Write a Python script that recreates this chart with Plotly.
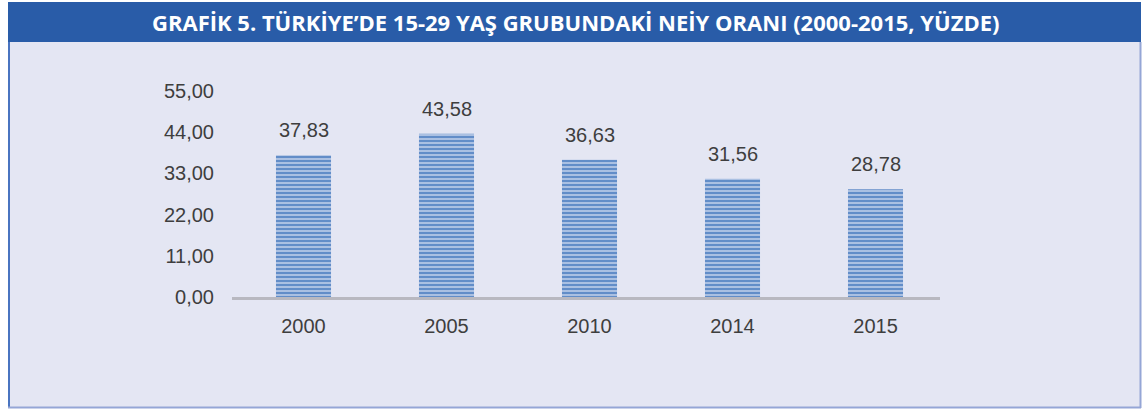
import plotly.graph_objects as go

years = ["2000", "2005", "2010", "2014", "2015"]
values = [37.83, 43.58, 36.63, 31.56, 28.78]
y_ticks = [0, 11, 22, 33, 44, 55]
title = "GRAFİK 5. TÜRKİYE’DE 15-29 YAŞ GRUBUNDAKİ NEİY ORANI (2000-2015, YÜZDE)"

W, H = 1144, 410
L, R, T, B = 232, 940, 91, 297  # plot area in pixels


def px(x):
    return (x - L) / (R - L)


def py(y):
    return (B - y) / (B - T)


FONT = dict(family="Liberation Sans, Arial", size=20, color="#3e3e3e")

fig = go.Figure()
fig.add_trace(go.Bar(
    x=years, y=values, width=0.385,
    marker=dict(
        color="#a9bfe1",
        line=dict(width=0),
        pattern=dict(shape="-", size=4, solidity=0.45,
                     fgcolor="#5a87c5", bgcolor="#aac0e2", fillmode="replace"),
    ),
    hoverinfo="skip",
))

# value labels (category axis: position by category index)
for i, v in enumerate(values):
    fig.add_annotation(x=i, y=v, text=f"{v:.2f}".replace(".", ","), showarrow=False,
                       yanchor="bottom", yshift=12, font=FONT)

shapes = [
    dict(type="rect", xref="paper", yref="paper", x0=px(8), x1=px(1141), y0=py(408), y1=py(2),
         fillcolor="#e4e6f3", line=dict(width=0), layer="below"),
    dict(type="rect", xref="paper", yref="paper", x0=px(8), x1=px(1141), y0=py(42), y1=py(2),
         fillcolor="#295ca8", line=dict(width=0), layer="below"),
    dict(type="line", xref="paper", yref="paper", x0=px(9), x1=px(9), y0=py(408), y1=py(42),
         line=dict(color="#4a74c0", width=2), layer="below"),
    dict(type="line", xref="paper", yref="paper", x0=px(1140.5), x1=px(1140.5), y0=py(408), y1=py(42),
         line=dict(color="#95a6d6", width=2), layer="below"),
    dict(type="line", xref="paper", yref="paper", x0=px(8), x1=px(1141), y0=py(407.5), y1=py(407.5),
         line=dict(color="#95a6d6", width=2), layer="below"),
]

fig.add_annotation(xref="paper", yref="paper", x=px(575), y=py(22), text=f"<b>{title}</b>",
                   showarrow=False, xanchor="center", yanchor="middle",
                   font=dict(family="Open Sans", size=22, color="white"))

fig.update_layout(
    width=W, height=H,
    margin=dict(l=L, r=W - R, t=T, b=H - B, pad=0),
    paper_bgcolor="white",
    plot_bgcolor="rgba(0,0,0,0)",
    separators=",.",
    showlegend=False,
    shapes=shapes,
)
fig.update_xaxes(type="category", range=[-0.5, 4.451], showline=True, linecolor="#b8b8c0",
                 linewidth=3, showgrid=False, ticks="", ticklabelstandoff=9, tickfont=FONT)
fig.update_yaxes(range=[0, 55], tickvals=y_ticks, tickformat=".2f", showgrid=False,
                 zeroline=False, showline=False, ticks="", ticklabelstandoff=17, tickfont=FONT)

fig.write_html("out.html", config={"displayModeBar": False},
               post_script="document.body.style.margin='0';")
